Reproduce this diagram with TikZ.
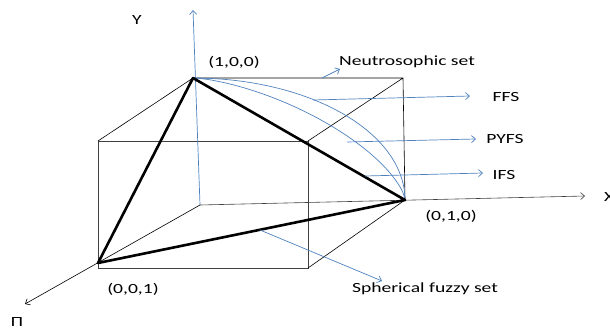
\documentclass[tikz,border=0pt]{standalone}
\usepackage{fontspec}
\setmainfont[FakeStretch=1.4]{Carlito}
\usetikzlibrary{arrows.meta}
\definecolor{lblue}{RGB}{79,129,189}
\definecolor{edgegray}{RGB}{64,64,64}
\begin{document}
\begin{tikzpicture}[x=1pt,y=-1pt, font=\fontsize{14}{16}\selectfont,
  edge/.style={line width=0.6pt, draw=black},
  face/.style={line width=0.8pt, draw=edgegray},
  tri/.style={line width=2.6pt, line join=round, line cap=round},
  bl/.style={draw=lblue, line width=0.7pt},
  barb/.style={-{Straight Barb[length=4pt,width=7pt]}},
  lbl/.style={inner sep=0pt, text=black}]
\useasboundingbox (0,0) rectangle (610,332);
% corner points
\coordinate (O) at (200,205);
\coordinate (A) at (193,78);
\coordinate (B) at (405,200);
\coordinate (C) at (98,263);
\coordinate (BTR) at (403,78);
\coordinate (FTL) at (98,141);
\coordinate (FTR) at (308,141);
\coordinate (FBR) at (308,268);
\coordinate (Ytip) at (193,10);
\coordinate (Xtip) at (585,196);
\coordinate (Ztip) at (25,304);
% cube
\draw[face] (FTL) rectangle (FBR);
\draw[edge] (FTL) -- (A) (FTR) -- (BTR) (FBR) -- (B) (A) -- (BTR) -- (B);
% axes
\draw[bl, barb] (O) -- (Ytip);
\draw[edge, draw=edgegray, barb] (O) -- (Xtip);
\draw[edge, barb] (O) -- (Ztip);
% curves
\draw[bl] plot[domain=0:90, samples=60] ({193+212*cos(\x)},{200-122*sin(\x)});
\draw[bl] plot[domain=0:90, samples=60] ({193+212*pow(abs(cos(\x)),4/3)},{200-122*pow(abs(sin(\x)),4/3)});
% triangle
\draw[tri] (A) -- (B) -- (C) -- cycle;
% labels
\node[lbl] (ly) at (137,20) {Y};
\node[lbl] (l100) at (234,62) {(1,0,0)};
\node[lbl] (l010) at (451,216) {(0,1,0)};
\node[lbl] (l001) at (133,289) {(0,0,1)};
\node[lbl] (lns) at (407,62) {Neutrosophic set};
\node[lbl] (lffs) at (506,97) {FFS};
\node[lbl] (lpy) at (505,139) {PYFS};
\node[lbl] (lifs) at (504,175) {IFS};
\node[lbl] (lsfs) at (425,289) {Spherical fuzzy set};
\node[lbl, anchor=west] (lx) at (604,197) {X};
\node[lbl] (lpi) at (17,322) {Π};
% pointer arrows
\coordinate (ns1) at (322,78);   \coordinate (ns2) at (340,69);
\coordinate (ff1) at (313,100);  \coordinate (ff2) at (470,96);
\coordinate (py1) at (347,142);  \coordinate (py2) at (476,139);
\coordinate (if1) at (365,176);  \coordinate (if2) at (483,173);
\coordinate (sf1) at (260,230);  \coordinate (sf2) at (382,281);
\draw[bl,barb] (ns1) -- (ns2);
\draw[bl,barb] (ff1) -- (ff2);
\draw[bl,barb] (py1) -- (py2);
\draw[bl,barb] (if1) -- (if2);
\draw[bl,barb] (sf1) -- (sf2);
\end{tikzpicture}
\end{document}
